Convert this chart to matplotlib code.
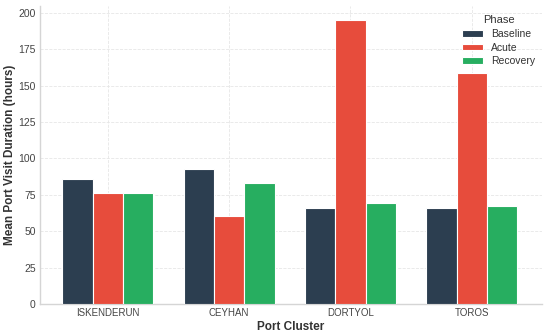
import matplotlib
matplotlib.use("Agg")
import matplotlib.pyplot as plt
import numpy as np

# data
clusters = ["ISKENDERUN", "CEYHAN", "DORTYOL", "TOROS"]
phases = ["Baseline", "Acute", "Recovery"]
baseline = [86.0, 92.6, 65.8, 65.8]
acute = [76.3, 60.8, 195.0, 158.5]
recovery = [76.5, 83.2, 69.2, 67.2]
colors = ["#2c3e50", "#e74c3c", "#27ae60"]

plt.rcParams["font.family"] = ["Liberation Sans", "DejaVu Sans"]

fig, ax = plt.subplots(figsize=(5.5, 3.35), dpi=100)
fig.subplots_adjust(left=40/550, right=542/550, top=1-6/335, bottom=1-304/335)

x = np.arange(len(clusters))
width = 0.25
for i, (name, vals) in enumerate(zip(phases, [baseline, acute, recovery])):
    ax.bar(x + (i - 1) * width, vals, width, color=colors[i], edgecolor="white",
           linewidth=0.8, label=name, zorder=3)

ax.set_xticks(x)
ax.set_xticklabels(clusters, fontsize=7)
ax.set_yticks(np.arange(0, 201, 25))
ax.tick_params(axis="y", labelsize=7.5)
ax.tick_params(length=0, pad=3, colors="#444444")
ax.set_xlim(-0.56, 3.58)
ax.set_ylim(0, 204.75)
ax.set_xlabel("Port Cluster", fontsize=8.5, fontweight="bold", color="#333333", labelpad=2)
ax.set_ylabel("Mean Port Visit Duration (hours)", fontsize=8.5, fontweight="bold", color="#333333")
ax.yaxis.set_label_coords(-0.047, 0.5)

ax.grid(True, linestyle="--", color="#e6e6e6", linewidth=0.6, zorder=0)
for s in ["top", "right"]:
    ax.spines[s].set_visible(False)
for s in ["left", "bottom"]:
    ax.spines[s].set_color("#d5d5d5")
    ax.spines[s].set_linewidth(1.0)

leg = ax.legend(title="Phase", frameon=False, loc="upper right", fontsize=7.5,
                title_fontsize=8, handlelength=2.0, handleheight=0.6,
                labelspacing=0.35, bbox_to_anchor=(1.005, 1.0))
leg.get_title().set_color("#333333")
for t in leg.get_texts():
    t.set_color("#333333")

fig.savefig("out.png", dpi=100)
